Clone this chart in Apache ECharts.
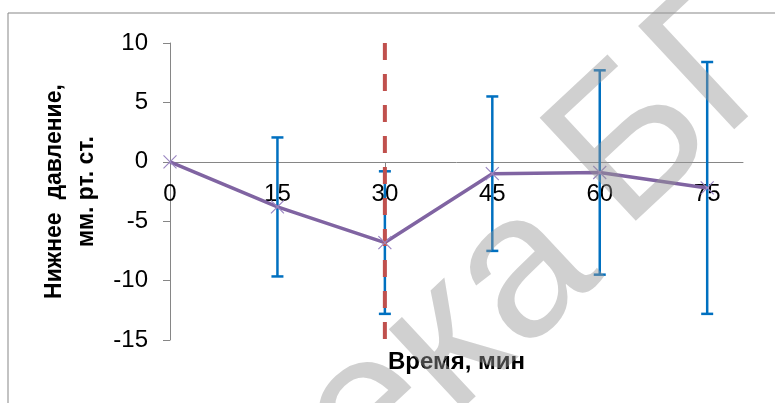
<!DOCTYPE html>
<html>
<head>
<meta charset="utf-8">
<script src="https://cdn.jsdelivr.net/npm/echarts@6/dist/echarts.min.js"></script>
<style>
html, body { margin: 0; padding: 0; background: #fff; }
#chart { width: 775px; height: 403px; }
</style>
</head>
<body>
<div id="chart"></div>
<script>
// Нижнее давление по времени
var minutes = [0, 15, 30, 45, 60, 75];
var pressure = [0, -3.8, -6.8, -1.0, -0.9, -2.2];
var errors = [0, 5.85, 6.0, 6.5, 8.6, 10.6];
var xTicks = [0, 15, 30, 45, 60, 75];
var yTicks = [-15, -10, -5, 0, 5, 10];
var markTime = 30;
var markRange = [10, -15.4];

var font = 'Liberation Sans, Arial, sans-serif';

var lineData = minutes.map(function (m, i) { return [m, pressure[i]]; });
var errData = minutes.map(function (m, i) {
    return [m, pressure[i] - errors[i], pressure[i] + errors[i]];
});

// водяной знак
var wmAngle = 0.75;
var wmStyle = {
    font: '205px Liberation Sans',
    fill: 'rgba(150,150,150,0.45)',
    verticalAlign: 'middle'
};

var myChart = echarts.init(document.getElementById('chart'));
var option = {
    animation: false,
    backgroundColor: '#fff',
    grid: { left: 170, right: 32, top: 43, bottom: 63, outerBoundsMode: 'none' },
    graphic: [
        {
            type: 'rect',
            shape: { x: 8, y: 13, width: 900, height: 500 },
            style: { fill: 'none', stroke: '#878787', lineWidth: 1 },
            z: 0
        },
        {
            type: 'text',
            x: 608, y: 196,
            rotation: wmAngle,
            style: Object.assign({ text: 'Библиотека ', align: 'right' }, wmStyle),
            z: 100
        },
        {
            type: 'text',
            x: 585, y: 191,
            rotation: wmAngle,
            style: Object.assign({ text: 'БГУ', align: 'left' }, wmStyle),
            z: 100
        }
    ],
    xAxis: {
        type: 'value',
        min: 0,
        max: 80,
        interval: 15,
        offset: -178,
        splitLine: { show: false },
        axisLine: { onZero: false, lineStyle: { color: '#868686', width: 1 } },
        axisTick: { show: true, length: 5, customValues: xTicks, lineStyle: { color: '#868686' } },
        axisLabel: {
            customValues: xTicks,
            margin: 20,
            color: '#000',
            fontSize: 24,
            fontFamily: font
        },
        name: 'Время, мин',
        nameLocation: 'middle',
        nameGap: 188,
        nameTextStyle: { color: '#000', fontSize: 24, fontWeight: 'bold', fontFamily: font }
    },
    yAxis: {
        type: 'value',
        min: -15,
        max: 10,
        interval: 5,
        splitLine: { show: false },
        axisLine: { show: true, lineStyle: { color: '#868686', width: 1 } },
        axisTick: { show: true, length: 7, lineStyle: { color: '#868686' } },
        axisLabel: {
            customValues: yTicks,
            margin: 22,
            color: '#000',
            fontSize: 24,
            fontFamily: font
        },
        name: 'Нижнее  давление,\nмм. рт. ст.',
        nameLocation: 'middle',
        nameRotate: 90,
        nameGap: 64,
        nameTextStyle: { color: '#000', fontSize: 23, fontWeight: 'bold', lineHeight: 32, fontFamily: font }
    },
    series: [
        {
            name: 'errors',
            type: 'custom',
            data: errData,
            clip: false,
            renderItem: function (params, api) {
                var x = api.value(0), lo = api.value(1), hi = api.value(2);
                if (hi === lo) return;
                var top = api.coord([x, hi]);
                var bot = api.coord([x, lo]);
                var w = 6;
                var st = { stroke: '#0070C0', lineWidth: 2.5 };
                return {
                    type: 'group',
                    children: [
                        { type: 'line', shape: { x1: top[0], y1: top[1], x2: bot[0], y2: bot[1] }, style: st },
                        { type: 'line', shape: { x1: top[0] - w, y1: top[1], x2: top[0] + w, y2: top[1] }, style: st },
                        { type: 'line', shape: { x1: bot[0] - w, y1: bot[1], x2: bot[0] + w, y2: bot[1] }, style: st }
                    ]
                };
            }
        },
        {
            name: 'Нижнее давление',
            type: 'line',
            data: lineData,
            symbol: 'path://M0,0L10,10M10,0L0,10',
            symbolSize: 13,
            itemStyle: { color: 'none', borderColor: '#9a86c2', borderWidth: 1.2 },
            lineStyle: { color: '#8064A2', width: 3.5 }
        },
        {
            name: 'mark',
            type: 'line',
            data: [[markTime, markRange[0]], [markTime, markRange[1]]],
            symbol: 'none',
            clip: false,
            lineStyle: { color: '#C0504D', width: 4, type: [17, 14] }
        }
    ]
};

myChart.setOption(option);
window.onresize = myChart.resize;
</script>
</body>
</html>
